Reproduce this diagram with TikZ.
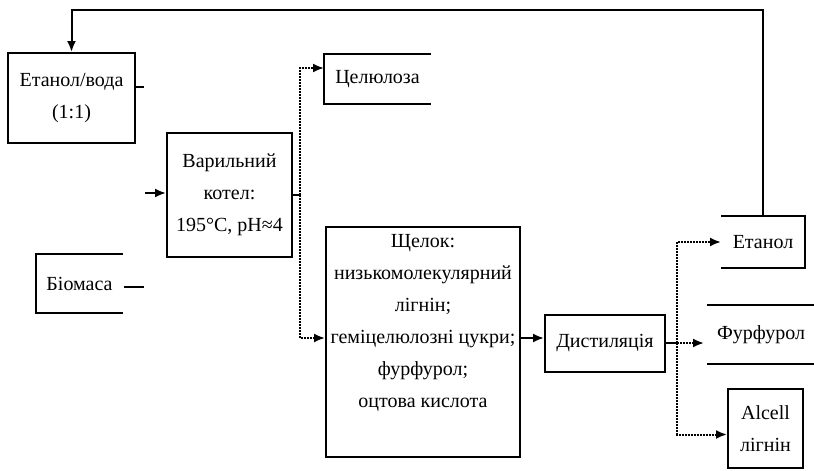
\documentclass[tikz,border=0pt]{standalone}
\usepackage{fontspec}
\setmainfont{Liberation Serif}
\usetikzlibrary{arrows.meta}
\begin{document}
\begin{tikzpicture}[x=1pt, y=-1pt, >={Latex[length=11pt,width=9pt]}, line width=2pt,
		every node/.style={font=\fontsize{20}{32}\selectfont, align=center, inner sep=0pt},
		box/.style={draw}, branch/.style={densely dotted}]
	\useasboundingbox (0,0) rectangle (814,471);
	% 1. Вузли схеми
	\node[box, minimum width=127, minimum height=90] (water) at (71.5,98) {Етанол/вода\\(1:1)};
	\node[minimum width=85, minimum height=57] (bio) at (79.5,283.5) {Біомаса};
	\node[box, minimum width=125, minimum height=124] (cooker) at (229.5,195) {Варильний\\котел:\\195°C, pH≈4};
	\node[minimum width=105, minimum height=48] (cel) at (377.5,79) {Целюлоза};
	\node[box, minimum width=194, minimum height=230] (liquor) at (423,342) {Щелок:\\низькомолекулярний\\лігнін;\\геміцелюлозні цукри;\\фурфурол;\\оцтова кислота\\\strut};
	\node[box, minimum width=120, minimum height=57] (distill) at (605,343.5) {Дистиляція};
	\node[minimum width=82, minimum height=50] (etanol) at (763,242) {Етанол};
	\node[minimum width=106, minimum height=57] (furf) at (761,334.5) {Фурфурол};
	\node[box, minimum width=75, minimum height=79] (alcell) at (765.5,428.5) {Alcell\\лігнін};

	% 2. Відкриті рамки
	\draw (bio.north east) -- (bio.north west) -- (bio.south west) -- (bio.south east);
	\draw (cel.north east) -- (cel.north west) -- (cel.south west) -- (cel.south east);
	\draw (etanol.north west) -- (etanol.north east) -- (etanol.south east) -- (etanol.south west);
	\draw (furf.north west) -- (furf.north east);
	\draw (furf.south west) -- (furf.south east);

	% 3. Допоміжні точки
	\coordinate (wstub) at (144,87);
	\coordinate (bstub) at (144,287);
	\coordinate (feed) at (145,193);
	\coordinate (split1) at (300,195);
	\coordinate (lout) at (520,338);
	\coordinate (split2) at (677,343);
	\coordinate (recycle) at (0,10);

	% 4. Потоки
	\draw (water.east |- wstub) -- (wstub);
	\draw ([xshift=1pt]bio.east |- bstub) -- (bstub);
	\draw[->] (feed) -- (cooker.west |- feed);
	\draw (cooker.east |- split1) -- (split1);
	\draw[->, branch] (split1) |- ([yshift=11pt]cel.west);
	\draw[->, branch] (split1) |- (liquor.west |- lout);
	\draw[->] (lout) -- (distill.west |- lout);
	\draw (distill.east |- split2) -- (split2);
	\draw[->, branch] (split2) |- (etanol.west);
	\draw[->, branch] (split2) -- ([xshift=-3pt]furf.west |- split2);
	\draw[->, branch] (split2) |- ([yshift=-6pt]alcell.west);
	\draw[->] (etanol.north) -- (etanol.north |- recycle) -| (water.north);
\end{tikzpicture}
\end{document}
